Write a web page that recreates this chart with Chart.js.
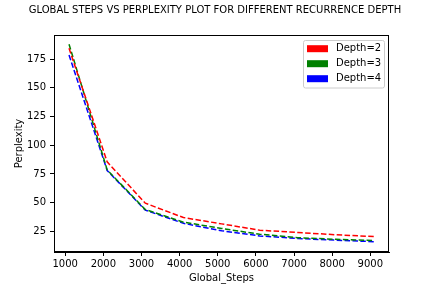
<!DOCTYPE html>
<html>
<head>
<meta charset="utf-8">
<script src="https://cdn.jsdelivr.net/npm/chart.js@4"></script>
<style>
  body { margin: 0; background: #fff; }
  #wrap { width: 432px; height: 288px; }
</style>
</head>
<body>
<div id="wrap"><canvas id="lineChart" width="432" height="288"></canvas></div>
<script>
// data
var steps = [1100, 2100, 3100, 4100, 5100, 6100, 7100, 8100, 9100];
var depth2 = [184.5, 85.5, 49.5, 37, 31.5, 26, 24, 22, 20.5];
var depth3 = [188, 78.5, 44, 33, 27.5, 22.5, 19.5, 18, 17];
var depth4 = [178.5, 78, 43.5, 32, 25.5, 21, 18.8, 17.3, 16];
var xTicks = [1000, 2000, 3000, 4000, 5000, 6000, 7000, 8000, 9000];
var yTicks = [25, 50, 75, 100, 125, 150, 175];
var titleText = 'GLOBAL STEPS VS PERPLEXITY PLOT FOR DIFFERENT RECURRENCE DEPTH';

var font = 'DejaVu Sans';

function toPoints(values) {
    return values.map(function (v, i) { return {x: steps[i], y: v}; });
}

function makeSet(label, values, color) {
    return {
        label: label,
        data: toPoints(values),
        borderColor: color,
        backgroundColor: color,
        borderWidth: 1.5,
        borderDash: [5.5, 2.4],
        pointRadius: 0,
        tension: 0,
        fill: false
    };
}

//frame, title and legend like matplotlib
var extras = {
    id: 'extras',
    afterDatasetsDraw: function (chart) {
        var ctx = chart.ctx;
        var a = chart.chartArea;
        ctx.save();
        ctx.strokeStyle = '#000';
        ctx.lineWidth = 1;
        ctx.strokeRect(Math.round(a.left) + 0.5, Math.round(a.top) + 0.5,
            Math.round(a.right - a.left) - 1, Math.round(a.bottom - a.top) - 1);

        ctx.fillStyle = '#000';
        ctx.font = '10px "' + font + '"';
        ctx.textAlign = 'center';
        ctx.textBaseline = 'middle';
        ctx.fillText(titleText, 215, 10);

        // legend box
        var bx = 303.5, by = 40.5, bw = 81, bh = 47.5, r = 2;
        ctx.beginPath();
        ctx.moveTo(bx + r, by);
        ctx.arcTo(bx + bw, by, bx + bw, by + bh, r);
        ctx.arcTo(bx + bw, by + bh, bx, by + bh, r);
        ctx.arcTo(bx, by + bh, bx, by, r);
        ctx.arcTo(bx, by, bx + bw, by, r);
        ctx.closePath();
        ctx.fillStyle = 'rgba(255,255,255,0.8)';
        ctx.fill();
        ctx.strokeStyle = '#cccccc';
        ctx.stroke();

        chart.data.datasets.forEach(function (ds, i) {
            var cy = 48.7 + i * 15;
            ctx.fillStyle = ds.borderColor;
            ctx.fillRect(307, cy - 3.5, 21, 7);
            ctx.fillStyle = '#000';
            ctx.textAlign = 'left';
            ctx.fillText(ds.label, 336, cy);
        });
        ctx.restore();
    }
};

var ctx = document.getElementById('lineChart').getContext('2d');
var chart = new Chart(ctx, {
    type: 'line',
    data: {
        datasets: [
            makeSet('Depth=2', depth2, 'red'),
            makeSet('Depth=3', depth3, 'green'),
            makeSet('Depth=4', depth4, 'blue')
        ]
    },
    options: {
        responsive: false,
        animation: false,
        layout: { padding: { top: 35, right: 43, left: 0, bottom: 0 } },
        plugins: {
            legend: { display: false },
            title: { display: false },
            tooltip: { enabled: false }
        },
        scales: {
            x: {
                type: 'linear',
                min: 706,
                max: 9490,
                afterBuildTicks: function (scale) {
                    scale.ticks = xTicks.map(function (v) { return {value: v}; });
                },
                afterFit: function (scale) { scale.height = 36; },
                grid: { drawOnChartArea: false, drawTicks: true, tickLength: 4, color: '#000' },
                border: { display: true, color: '#000' },
                ticks: { color: '#000', font: { family: font, size: 10 }, padding: 2, maxRotation: 0,
                    callback: function (value) { return String(value); } },
                title: { display: true, text: 'Global_Steps', color: '#000',
                    font: { family: font, size: 10 }, padding: { top: 0, bottom: 4 } }
            },
            y: {
                type: 'linear',
                min: 7,
                max: 196,
                afterBuildTicks: function (scale) {
                    scale.ticks = yTicks.map(function (v) { return {value: v}; });
                },
                afterFit: function (scale) { scale.width = 54; },
                grid: { drawOnChartArea: false, drawTicks: true, tickLength: 4, color: '#000' },
                border: { display: true, color: '#000' },
                ticks: { color: '#000', font: { family: font, size: 10 }, padding: 4,
                    callback: function (value) { return String(value); } },
                title: { display: true, text: 'Perplexity', color: '#000',
                    font: { family: font, size: 10 }, padding: { top: 13, bottom: 0 } }
            }
        }
    },
    plugins: [extras]
});
</script>
</body>
</html>
